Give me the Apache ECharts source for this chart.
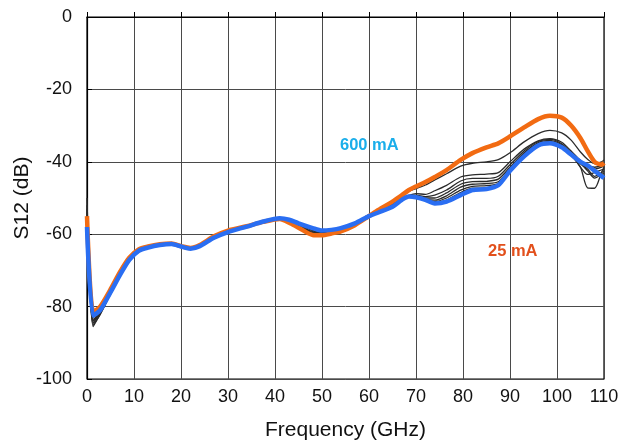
<!DOCTYPE html>
<html><head><meta charset="utf-8">
<script src="https://cdn.jsdelivr.net/npm/echarts@6/dist/echarts.min.js"></script>
<style>html,body{margin:0;padding:0;background:#fff}#c{width:622px;height:442px}</style>
</head><body><div id="c"></div>
<script>
const freq = [0,1.3,2.8,4.9,7,9,11,13,15.5,18,20,22,24,27,30,34,37.5,41,43,45,48,50,52,54,57,60,62,65,67,68.5,70,72,74,76.5,79.5,82,85,87.5,90,93,96,98.5,101,103,105,106.5,108,109.5,110];
const ma600 = [-58,-82.5,-81,-76.3,-71.3,-67.1,-64.6,-63.7,-63,-62.7,-63.4,-64,-63.3,-61,-59.4,-57.9,-56.5,-55.6,-56,-57,-58.3,-59,-58.8,-58.3,-57,-55,-54,-52.4,-50.5,-49.6,-49.8,-50.5,-51.5,-51,-49.2,-47.8,-47.5,-46.5,-42.5,-38.5,-35.5,-34.9,-36,-38,-40,-41,-42.5,-44,-44.5];
const ma25 = [-55,-81.5,-80,-75.5,-70.5,-66.5,-64.2,-63.4,-62.8,-62.6,-63.3,-63.8,-63,-60.6,-59,-57.8,-56.6,-55.8,-56.8,-58.2,-60.2,-60.3,-59.8,-59.2,-57.5,-55,-53.3,-51,-49.2,-47.8,-46.8,-45.6,-44.2,-42.3,-39.5,-37.6,-36,-34.9,-33,-30.5,-28.2,-27.3,-27.8,-30,-33.5,-37,-40,-40.8,-40.3];
const mid1 = [-50,-84,-81.5,-76.5,-71.5,-67.3,-64.8,-63.8,-63.2,-62.9,-63.5,-64.1,-63.4,-61.2,-59.6,-58,-56.7,-55.9,-56.5,-57.8,-59.5,-59.8,-59.4,-58.8,-57.2,-55,-53.6,-51.5,-49.6,-48.2,-47.4,-46.4,-45,-43.3,-41.2,-40.4,-40,-39.4,-37.5,-34.5,-32.2,-31.3,-32,-34,-37.3,-39.3,-40.5,-40,-39.5];
const mid2 = [-52,-85.5,-82,-76.8,-71.6,-67.4,-64.9,-63.9,-63.2,-62.9,-63.6,-64.2,-63.5,-61.2,-59.6,-58.1,-56.8,-55.9,-56.6,-57.9,-59.6,-60,-59.6,-59,-57.4,-55.2,-54,-52,-50.2,-49.3,-48.8,-49,-48,-46.5,-44.2,-43.6,-43.4,-43,-40,-36.5,-34.2,-33.6,-34.6,-37,-39.6,-41,-41.5,-41,-40.5];
const mid3 = [-54,-83.5,-81.8,-76.6,-71.5,-67.3,-64.8,-63.8,-63.1,-62.8,-63.5,-64.1,-63.4,-61.1,-59.5,-58,-56.6,-55.8,-56.4,-57.6,-59.3,-59.8,-59.4,-58.8,-57.3,-55,-53.8,-51.8,-50,-49.4,-49.2,-49.6,-49.2,-47.8,-45.3,-44.6,-44.6,-44,-40.8,-37,-34.4,-33.8,-35,-37.5,-40.5,-41.5,-42,-41.5,-41];
const mid4 = [-56,-85,-82.2,-76.8,-71.6,-67.3,-64.8,-63.8,-63.1,-62.8,-63.5,-64.1,-63.4,-61.1,-59.5,-58,-56.6,-55.7,-56.3,-57.4,-59,-59.6,-59.3,-58.7,-57.2,-55,-54,-52.2,-50.3,-49.5,-49.4,-50,-50,-48.6,-46.2,-45.5,-45.4,-44.8,-41.5,-37.5,-34.7,-34.1,-35.3,-38,-41.5,-47.2,-47.3,-42.8,-41.5];
const mid5 = [-55,-84.5,-81.6,-76.5,-71.4,-67.2,-64.7,-63.8,-63.1,-62.8,-63.5,-64.1,-63.4,-61.1,-59.5,-58,-56.6,-55.7,-56.2,-57.3,-58.8,-59.4,-59.1,-58.6,-57.2,-54.8,-54,-52.3,-50.4,-49.5,-49.6,-50.3,-50.6,-49.4,-47,-46.2,-46,-45.5,-42,-37.8,-35,-34.4,-35.6,-38,-41.5,-43.5,-43,-42.2,-42];
const mid6 = [-57,-83,-81.4,-76.4,-71.4,-67.2,-64.7,-63.8,-63.1,-62.8,-63.5,-64.1,-63.4,-61.1,-59.5,-58,-56.6,-55.7,-56.1,-57.2,-58.6,-59.3,-59,-58.5,-57.1,-54.7,-54,-52.4,-50.4,-49.6,-49.7,-50.5,-51,-50,-47.8,-46.8,-46.6,-46,-42.2,-38,-35.2,-34.6,-35.8,-38,-40.5,-42,-44,-43,-42.5];
const mid7 = [-53,-84,-81.5,-76.4,-71.4,-67.2,-64.7,-63.8,-63.1,-62.8,-63.5,-64.1,-63.4,-61.1,-59.5,-58,-56.6,-55.7,-56.1,-57.2,-58.5,-59.2,-58.9,-58.4,-57,-54.6,-54,-52.4,-50.4,-49.6,-49.8,-50.6,-51.3,-50.6,-48.5,-47.3,-47.2,-46.3,-42.4,-38.3,-35.4,-34.8,-36,-38.3,-40.5,-42.5,-44.5,-43.5,-43];
const midSeries = [mid1, mid2, mid3, mid4, mid5, mid6, mid7];
const xTicks = {min: 0, max: 110, interval: 10};
const yTicks = {min: -100, max: 0, interval: 20};

const pair = arr => freq.map((f, i) => [f, arr[i]]);
const FONT = '"Liberation Sans", Arial, sans-serif';
const series = [];
midSeries.forEach((arr, k) => series.push({
  name: 'mid' + k, type: 'line', data: pair(arr), symbol: 'none', smooth: 0.25,
  lineStyle: {color: '#2b2b2b', width: 1.3}, z: 2
}));
series.push({name: '25 mA', type: 'line', data: pair(ma25), symbol: 'none', smooth: 0.25,
  lineStyle: {color: '#f26b12', width: 4.5}, z: 3});
series.push({name: '600 mA', type: 'line', data: pair(ma600), symbol: 'none', smooth: 0.25,
  lineStyle: {color: '#2a6ef2', width: 4.5}, z: 4});

const chart = echarts.init(document.getElementById('c'), null, {renderer: 'canvas'});
chart.setOption({
  animation: false,
  backgroundColor: '#fff',
  grid: {left: 87, right: 18, top: 17, bottom: 63, containLabel: false, outerBoundsMode: 'none',
    show: true, borderColor: '#000', borderWidth: 1.2},
  xAxis: {
    type: 'value', min: xTicks.min, max: xTicks.max, interval: xTicks.interval,
    name: 'Frequency (GHz)', nameLocation: 'middle', nameGap: 41, nameMoveOverlap: false,
    nameTextStyle: {fontFamily: FONT, fontSize: 21, color: '#111'},
    axisLine: {lineStyle: {color: '#000', width: 1.2}},
    axisTick: {inside: true, length: 5, lineStyle: {color: '#000'}},
    axisLabel: {fontFamily: FONT, fontSize: 18, color: '#111', margin: 9, hideOverlap: false},
    splitLine: {show: true, lineStyle: {color: '#4a4a4a', width: 1}}
  },
  yAxis: {
    type: 'value', min: yTicks.min, max: yTicks.max, interval: yTicks.interval,
    name: 'S12 (dB)', nameLocation: 'middle', nameGap: 54, nameMoveOverlap: false,
    nameTextStyle: {fontFamily: FONT, fontSize: 21, color: '#111'},
    axisLine: {lineStyle: {color: '#000', width: 1.2}},
    axisTick: {inside: true, length: 5, lineStyle: {color: '#000'}},
    axisLabel: {fontFamily: FONT, fontSize: 18, color: '#111', margin: 15},
    splitLine: {show: true, lineStyle: {color: '#4a4a4a', width: 1}}
  },
  graphic: [
    {type: 'text', left: 340, top: 137, style: {text: '600 mA', fill: '#1aaeea', font: 'bold 16.5px ' + FONT}},
    {type: 'text', left: 488, top: 243, style: {text: '25 mA', fill: '#e2501c', font: 'bold 16.5px ' + FONT}}
  ],
  series: series
});
</script></body></html>
